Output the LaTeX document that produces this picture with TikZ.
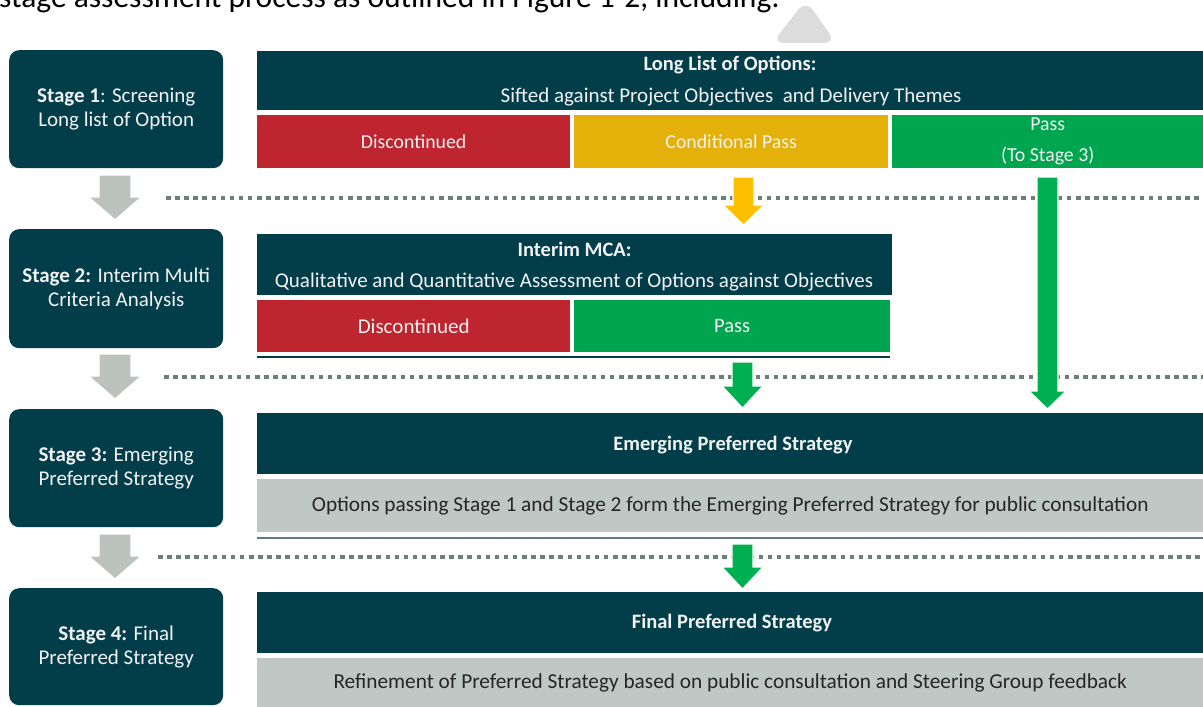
\documentclass[tikz,border=0pt]{standalone}
\usepackage{fontspec}
\setmainfont{Carlito}
\definecolor{darkteal}{HTML}{023D4A}
\definecolor{cellred}{HTML}{BE252F}
\definecolor{cellyellow}{HTML}{E3B10A}
\definecolor{cellgreen}{HTML}{00A54F}
\definecolor{arrowyellow}{HTML}{FDBF00}
\definecolor{arrowgreen}{HTML}{00B050}
\definecolor{arrowgrey}{HTML}{BCC3BF}
\definecolor{rowgrey}{HTML}{C0C8C6}
\definecolor{dotgrey}{HTML}{6D8075}
\definecolor{rulegrey}{HTML}{5E7C84}
\definecolor{lighttri}{HTML}{DCDCDC}
\definecolor{lighttext}{HTML}{F2F2F2}
\definecolor{darktext}{HTML}{262626}
\newcommand\blockarr[7]{% center x, shaft top, head top, tip, shaft half, head half, colour
  \fill[#7, draw=white, line width=1.2pt] (#1-#5,#2) -- (#1+#5,#2) -- (#1+#5,#3) -- (#1+#6,#3) -- (#1,#4) -- (#1-#6,#3) -- (#1-#5,#3) -- cycle;}
\begin{document}
\begin{tikzpicture}[x=1pt,y=-1pt,
  stagebox/.style={fill=darkteal, rounded corners=10pt, anchor=north west, inner sep=0pt,
    text=lighttext, align=center, font=\fontsize{21}{24}\selectfont},
  headbox/.style={fill=darkteal, anchor=north west, inner sep=0pt},
  cellbox/.style={anchor=north west, inner sep=0pt, text=lighttext, align=center,
    font=\fontsize{19.8}{31}\selectfont},
  greybox/.style={fill=rowgrey, anchor=north west, inner sep=0pt, text=darktext,
    font=\fontsize{21.3}{24}\selectfont},
  titletext/.style={text=lighttext, font=\bfseries\fontsize{20.5}{24}\selectfont, inner sep=0pt},
  subtext/.style={text=lighttext, font=\fontsize{21}{24}\selectfont, inner sep=0pt},
  dotline/.style={draw=dotgrey, line width=4pt, dash pattern=on 4.5pt off 4.6pt}
]
\useasboundingbox (0,0) rectangle (1203,707);

% cut-off context at the top
\begin{scope}
  \clip (0,0) rectangle (1203,707);
  \node[anchor=base west, inner sep=0pt, text=black, font=\fontsize{31.5}{34}\selectfont] (toptext) at (-1,7) {stage assessment process as outlined in Figure 1-2, including:};
  \fill[lighttri, rounded corners=12pt] (772,43) -- (806,0) -- (836,43) -- cycle;
\end{scope}

% ---------- stage boxes (left) ----------
\node[stagebox, minimum width=214pt, minimum height=118pt] (s1) at (9,50) {\textbf{Stage 1}: Screening\\Long list of Option};
\node[stagebox, minimum width=214pt, minimum height=119pt] (s2) at (9,229) {\textbf{Stage 2:} Interim Multi\\Criteria Analysis};
\node[stagebox, minimum width=214pt, minimum height=118pt] (s3) at (9,409) {\textbf{Stage 3:} Emerging\\Preferred Strategy};
\node[stagebox, minimum width=214pt, minimum height=117pt] (s4) at (9,588) {\textbf{Stage 4:} Final\\Preferred Strategy};

% ---------- dotted separators ----------
\coordinate (d1a) at (166,198); \coordinate (d1b) at (1203,198);
\coordinate (d2a) at (164,377); \coordinate (d2b) at (1203,377);
\coordinate (d3a) at (158,557); \coordinate (d3b) at (1203,557);
\draw[dotline] (d1a) -- (d1b);
\draw[dotline] (d2a) -- (d2b);
\draw[dotline] (d3a) -- (d3b);

% ---------- Stage 1 row ----------
\node[headbox, minimum width=946pt, minimum height=59pt] (h1) at (257,51) {};
\node[titletext] (h1t) at (730,65) {Long List of Options:};
\node[subtext] (h1s) at (731,97) {Sifted against Project Objectives \ and Delivery Themes};
\node[cellbox, fill=cellred, minimum width=313pt, minimum height=53pt] (c1r) at (257,115) {Discontinued};
\node[cellbox, fill=cellyellow, minimum width=314pt, minimum height=53pt] (c1y) at (574,115) {Conditional Pass};
\node[cellbox, fill=cellgreen, minimum width=311pt, minimum height=53pt] (c1g) at (892,115) {Pass\\(To Stage 3)};

% ---------- Stage 2 row ----------
\node[headbox, minimum width=635pt, minimum height=61pt] (h2) at (257,234) {};
\node[titletext] (h2t) at (574.5,249) {Interim MCA:};
\node[subtext] (h2s) at (574,282) {Qualitative and Quantitative Assessment of Options against Objectives};
\node[cellbox, fill=cellred, minimum width=313pt, minimum height=52pt, font=\fontsize{21}{24}\selectfont] (c2r) at (257,300) {Discontinued};
\node[cellbox, fill=cellgreen, minimum width=316pt, minimum height=52pt, font=\fontsize{20.5}{24}\selectfont] (c2g) at (574,300) {Pass};
\draw[darkteal, line width=1.5pt] (c2r.south west) ++(0,4.5) coordinate (u2a) -- (u2a -| c2g.south east);

% ---------- Stage 3 row ----------
\node[headbox, minimum width=946pt, minimum height=61pt] (h3) at (257,413) {};
\node[titletext] (h3t) at (733,445) {Emerging Preferred Strategy};
\node[greybox, minimum width=946pt, minimum height=53pt] (g3) at (257,479) {Options passing Stage 1 and Stage 2 form the Emerging Preferred Strategy for public consultation};
\draw[rulegrey, line width=2.5pt] (g3.south west) ++(0,5.5) coordinate (u3a) -- (u3a -| g3.south east);

% ---------- Stage 4 row ----------
\node[headbox, minimum width=946pt, minimum height=61pt] (h4) at (257,592) {};
\node[titletext] (h4t) at (732,623) {Final Preferred Strategy};
\node[greybox, minimum width=946pt, minimum height=50pt] (g4) at (257,658) {Refinement of Preferred Strategy based on public consultation and Steering Group feedback};

% ---------- block arrows ----------
\blockarr{115}{175}{197}{220}{16}{26.5}{arrowgrey}
\blockarr{115}{354}{376}{399}{16}{26.5}{arrowgrey}
\blockarr{115}{534}{556}{579}{16}{26.5}{arrowgrey}
\blockarr{743.5}{177}{205}{225}{10.5}{20.5}{arrowyellow}
\blockarr{742.5}{362}{386}{408}{10.5}{20.5}{arrowgreen}
\blockarr{742.5}{544}{567}{589}{10.5}{20.5}{arrowgreen}
\blockarr{1047.5}{177}{391}{409}{10.5}{18.5}{arrowgreen}
\end{tikzpicture}
\end{document}
